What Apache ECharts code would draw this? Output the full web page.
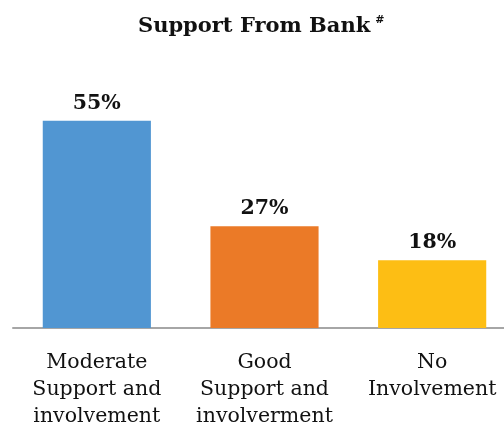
<!DOCTYPE html>
<html>
<head>
<meta charset="utf-8">
<script src="https://cdn.jsdelivr.net/npm/echarts@6/dist/echarts.min.js"></script>
<style>
  html, body { margin: 0; padding: 0; background: #fff; }
  #chart { width: 504px; height: 425px; }
</style>
</head>
<body>
<div id="chart"></div>
<script>
// Bank support survey results
const categories = [
  'Moderate\nSupport and\ninvolvement',
  'Good\nSupport and\ninvolverment',
  'No\nInvolvement'
];
const shares = [55, 27, 18];
const barColors = ['#5196D2', '#EB7A27', '#FDBE14'];

const SERIF = '"DejaVu Serif", "Liberation Serif", serif';

const chart = echarts.init(document.getElementById('chart'));
chart.setOption({
  animation: false,
  title: {
    text: '{t|Support From Bank}{s|#}',
    left: 133,
    top: 10,
    textStyle: {
      rich: {
        t: { fontFamily: SERIF, fontWeight: 'bold', fontSize: 21, color: '#111' },
        s: { fontFamily: SERIF, fontWeight: 'bold', fontSize: 11, color: '#111', verticalAlign: 'top', padding: [0, 0, 12, 5] }
      }
    }
  },
  grid: { left: 13, width: 503, top: 102, bottom: 97, outerBoundsMode: 'none', containLabel: false },
  xAxis: {
    type: 'category',
    data: categories,
    axisLine: { show: true, lineStyle: { color: '#A6A6A6', width: 2 } },
    axisTick: { show: false },
    axisLabel: {
      interval: 0,
      margin: 21,
      fontFamily: SERIF,
      fontSize: 20.5,
      lineHeight: 27,
      color: '#111',
      align: 'center'
    }
  },
  yAxis: {
    type: 'value',
    min: 0,
    max: 60,
    show: false,
    splitLine: { show: false }
  },
  series: [{
    type: 'bar',
    data: shares.map((v, i) => ({ value: v, itemStyle: { color: barColors[i] } })),
    barWidth: '64.5%',
    label: {
      show: true,
      position: 'top',
      distance: 7,
      formatter: p => p.value + '%',
      fontFamily: SERIF,
      fontWeight: 'bold',
      fontSize: 20.5,
      color: '#111'
    }
  }]
});
</script>
</body>
</html>
